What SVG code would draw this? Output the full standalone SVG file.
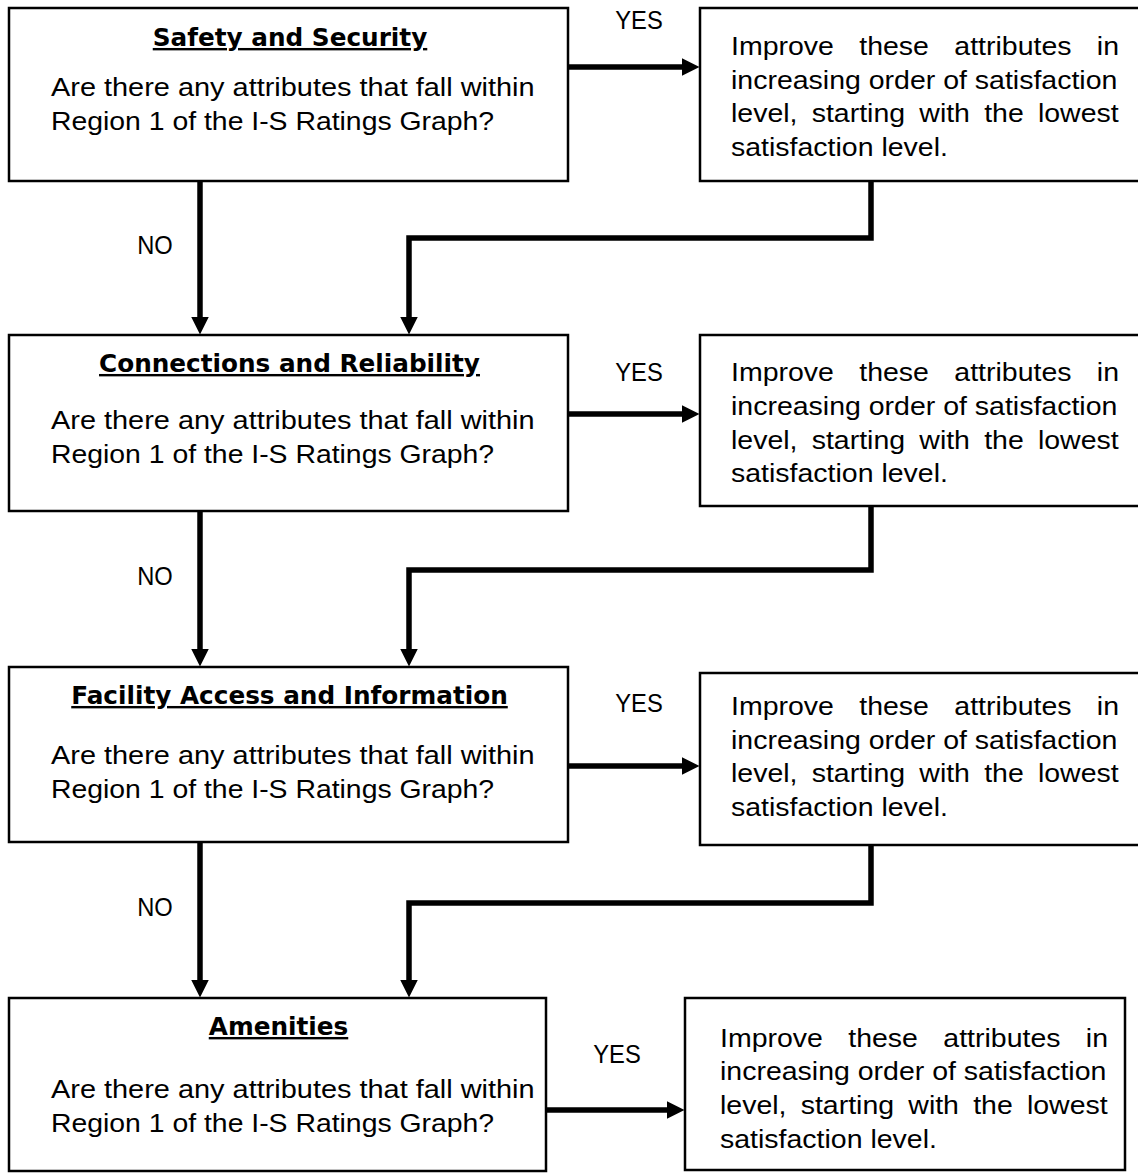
<svg xmlns="http://www.w3.org/2000/svg" width="1138" height="1173" viewBox="0 0 1138 1173">
  <style>
    .box { fill: #fff; stroke: #000; stroke-width: 2.5; }
    .link { fill: none; stroke: #000; stroke-width: 5.5; stroke-linejoin: miter; stroke-linecap: butt; }
    .arrow { marker-end: url(#head); }
    .title { font-family: "DejaVu Sans", Verdana, sans-serif; font-weight: bold; font-size: 24px; text-anchor: middle; text-decoration: underline; fill: #000; }
    .body { font-family: "Liberation Sans", Arial, sans-serif; font-size: 25px; fill: #000; }
    .lbl { font-family: "Liberation Sans", Arial, sans-serif; font-size: 25px; text-anchor: middle; fill: #000; }
    .w1 { word-spacing: 15.3px; }
    .w3 { word-spacing: 5.5px; }
  </style>
  <defs>
    <marker id="head" markerUnits="userSpaceOnUse" viewBox="0 0 18 18" markerWidth="18" markerHeight="18" refX="0.5" refY="9" orient="auto">
      <path d="M0,0 L18,9 L0,18 Z" fill="#000"/>
    </marker>
  </defs>
  <rect width="1138" height="1173" fill="#fff"/>

  <!-- connectors -->
  <g id="connectors">
    <!-- YES branches -->
    <line class="link arrow" x1="568" y1="67" x2="682" y2="67"/>
    <line class="link arrow" x1="568" y1="414" x2="682" y2="414"/>
    <line class="link arrow" x1="568" y1="766" x2="682" y2="766"/>
    <line class="link arrow" x1="546" y1="1110" x2="667" y2="1110"/>
    <!-- NO branches -->
    <line class="link arrow" x1="200" y1="181" x2="200" y2="317"/>
    <line class="link arrow" x1="200" y1="511" x2="200" y2="649"/>
    <line class="link arrow" x1="200" y1="842" x2="200" y2="980"/>
    <!-- returns from the improvement boxes -->
    <polyline class="link arrow" points="871,181 871,238 409,238 409,317"/>
    <polyline class="link arrow" points="871,506 871,570 409,570 409,649"/>
    <polyline class="link arrow" points="871,845 871,903 409,903 409,980"/>
    <!-- branch labels -->
    <text class="lbl" transform="translate(639 29) scale(0.95 1)">YES</text>
    <text class="lbl" transform="translate(639 381) scale(0.95 1)">YES</text>
    <text class="lbl" transform="translate(639 712) scale(0.95 1)">YES</text>
    <text class="lbl" transform="translate(617 1063) scale(0.95 1)">YES</text>
    <text class="lbl" transform="translate(155 254) scale(0.95 1)">NO</text>
    <text class="lbl" transform="translate(155 585) scale(0.95 1)">NO</text>
    <text class="lbl" transform="translate(155 916) scale(0.95 1)">NO</text>
  </g>

  <!-- question: Safety and Security -->
  <g id="q-safety">
    <rect class="box" x="9" y="8" width="559" height="173"/>
    <text class="title" transform="translate(290 46) scale(1.03 1)">Safety and Security</text>
    <text class="body" transform="translate(51 96) scale(1.157 1)">Are there any attributes that fall within</text>
    <text class="body" transform="translate(51 130) scale(1.135 1)">Region 1 of the I-S Ratings Graph?</text>
  </g>

  <!-- action: Safety and Security -->
  <g id="a-safety">
    <rect class="box" x="700" y="8" width="442" height="173"/>
    <text class="body w1" transform="translate(731 54.5) scale(1.14 1)">Improve these attributes in</text>
    <text class="body" transform="translate(731 88.5) scale(1.14 1)">increasing order of satisfaction</text>
    <text class="body w3" transform="translate(731 122) scale(1.14 1)">level, starting with the lowest</text>
    <text class="body" transform="translate(731 155.5) scale(1.14 1)">satisfaction level.</text>
  </g>

  <!-- question: Connections and Reliability -->
  <g id="q-connections">
    <rect class="box" x="9" y="335" width="559" height="176"/>
    <text class="title" transform="translate(289.5 372) scale(1.03 1)">Connections and Reliability</text>
    <text class="body" transform="translate(51 429) scale(1.157 1)">Are there any attributes that fall within</text>
    <text class="body" transform="translate(51 463) scale(1.135 1)">Region 1 of the I-S Ratings Graph?</text>
  </g>

  <!-- action: Connections and Reliability -->
  <g id="a-connections">
    <rect class="box" x="700" y="335" width="442" height="171"/>
    <text class="body w1" transform="translate(731 380.5) scale(1.14 1)">Improve these attributes in</text>
    <text class="body" transform="translate(731 414.5) scale(1.14 1)">increasing order of satisfaction</text>
    <text class="body w3" transform="translate(731 448.5) scale(1.14 1)">level, starting with the lowest</text>
    <text class="body" transform="translate(731 481.5) scale(1.14 1)">satisfaction level.</text>
  </g>

  <!-- question: Facility Access and Information -->
  <g id="q-facility">
    <rect class="box" x="9" y="667" width="559" height="175"/>
    <text class="title" transform="translate(289.5 704) scale(1.03 1)">Facility Access and Information</text>
    <text class="body" transform="translate(51 764) scale(1.157 1)">Are there any attributes that fall within</text>
    <text class="body" transform="translate(51 798) scale(1.135 1)">Region 1 of the I-S Ratings Graph?</text>
  </g>

  <!-- action: Facility Access and Information -->
  <g id="a-facility">
    <rect class="box" x="700" y="673" width="442" height="172"/>
    <text class="body w1" transform="translate(731 714.5) scale(1.14 1)">Improve these attributes in</text>
    <text class="body" transform="translate(731 748.5) scale(1.14 1)">increasing order of satisfaction</text>
    <text class="body w3" transform="translate(731 781.5) scale(1.14 1)">level, starting with the lowest</text>
    <text class="body" transform="translate(731 815.5) scale(1.14 1)">satisfaction level.</text>
  </g>

  <!-- question: Amenities -->
  <g id="q-amenities">
    <rect class="box" x="9" y="998" width="537" height="173"/>
    <text class="title" transform="translate(278.5 1035) scale(1.03 1)">Amenities</text>
    <text class="body" transform="translate(51 1098) scale(1.157 1)">Are there any attributes that fall within</text>
    <text class="body" transform="translate(51 1132) scale(1.135 1)">Region 1 of the I-S Ratings Graph?</text>
  </g>

  <!-- action: Amenities -->
  <g id="a-amenities">
    <rect class="box" x="685" y="998" width="440" height="172"/>
    <text class="body w1" transform="translate(720 1046.5) scale(1.14 1)">Improve these attributes in</text>
    <text class="body" transform="translate(720 1079.5) scale(1.14 1)">increasing order of satisfaction</text>
    <text class="body w3" transform="translate(720 1113.5) scale(1.14 1)">level, starting with the lowest</text>
    <text class="body" transform="translate(720 1147.5) scale(1.14 1)">satisfaction level.</text>
  </g>
</svg>
